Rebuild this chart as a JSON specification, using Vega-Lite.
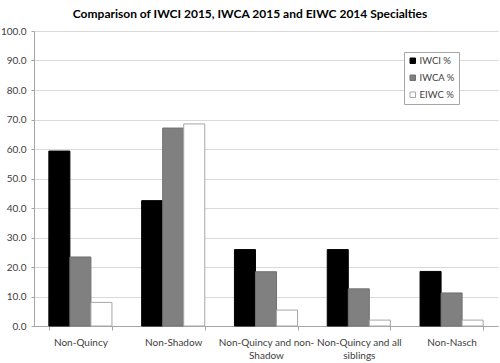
{
  "$schema": "https://vega.github.io/schema/vega-lite/v6.json",
  "autosize": {"type": "none"},
  "width": 464,
  "height": 295,
  "padding": {"left": 34, "top": 31, "right": 2, "bottom": 37},
  "background": "white",
  "title": {
    "text": "Comparison of IWCI 2015, IWCA 2015 and EIWC 2014 Specialties",
    "font": "Lato",
    "fontSize": 12,
    "fontWeight": "bold",
    "color": "#000000",
    "anchor": "middle",
    "dx": -16,
    "offset": 5
  },
  "config": {
    "view": {"stroke": null},
    "font": "Lato"
  },
  "data": {
    "values": [
      {"category": "Non-Quincy", "series": "IWCI %", "value": 59.3},
      {"category": "Non-Quincy", "series": "IWCA %", "value": 23.4},
      {"category": "Non-Quincy", "series": "EIWC %", "value": 8.0},
      {"category": "Non-Shadow", "series": "IWCI %", "value": 42.5},
      {"category": "Non-Shadow", "series": "IWCA %", "value": 67.1},
      {"category": "Non-Shadow", "series": "EIWC %", "value": 68.5},
      {"category": "Non-Quincy and non-Shadow", "series": "IWCI %", "value": 25.9},
      {"category": "Non-Quincy and non-Shadow", "series": "IWCA %", "value": 18.4},
      {"category": "Non-Quincy and non-Shadow", "series": "EIWC %", "value": 5.4},
      {"category": "Non-Quincy and all siblings", "series": "IWCI %", "value": 25.9},
      {"category": "Non-Quincy and all siblings", "series": "IWCA %", "value": 12.6},
      {"category": "Non-Quincy and all siblings", "series": "EIWC %", "value": 2.0},
      {"category": "Non-Nasch", "series": "IWCI %", "value": 18.5},
      {"category": "Non-Nasch", "series": "IWCA %", "value": 11.2},
      {"category": "Non-Nasch", "series": "EIWC %", "value": 2.0}
    ]
  },
  "mark": {"type": "bar", "strokeWidth": 1},
  "encoding": {
    "x": {
      "field": "category",
      "type": "nominal",
      "sort": null,
      "title": null,
      "scale": {"paddingInner": 0.32, "paddingOuter": 0.16},
      "axis": {
        "labelAngle": 0,
        "labelFontSize": 10,
        "labelColor": "#404040",
        "labelPadding": 7,
        "labelLineHeight": 13,
        "labelLimit": 200,
        "labelExpr": "datum.value == 'Non-Quincy and non-Shadow' ? ['Non-Quincy and non-', 'Shadow'] : datum.value == 'Non-Quincy and all siblings' ? ['Non-Quincy and all', 'siblings'] : datum.value",
        "tickBand": "extent",
        "tickSize": 4,
        "tickColor": "#a6a6a6",
        "domainColor": "#a6a6a6",
        "grid": false
      }
    },
    "xOffset": {
      "field": "series",
      "type": "nominal",
      "sort": ["IWCI %", "IWCA %", "EIWC %"],
      "scale": {"paddingInner": 0, "paddingOuter": 0}
    },
    "y": {
      "field": "value",
      "type": "quantitative",
      "title": null,
      "scale": {"domain": [0, 100], "nice": false},
      "axis": {
        "values": [0, 10, 20, 30, 40, 50, 60, 70, 80, 90, 100],
        "format": ".1f",
        "labelFontSize": 10,
        "labelColor": "#404040",
        "labelPadding": 5,
        "tickSize": 3,
        "tickColor": "#a6a6a6",
        "domainColor": "#a6a6a6",
        "gridColor": "#d9d9d9",
        "grid": true
      }
    },
    "fill": {
      "field": "series",
      "type": "nominal",
      "sort": ["IWCI %", "IWCA %", "EIWC %"],
      "scale": {"domain": ["IWCI %", "IWCA %", "EIWC %"], "range": ["#000000", "#808080", "#ffffff"]},
      "legend": {
        "title": null,
        "orient": "none",
        "legendX": 370,
        "legendY": 21,
        "strokeColor": "#a6a6a6",
        "fillColor": "white",
        "padding": 4,
        "symbolType": "square",
        "symbolSize": 30,
        "symbolStrokeWidth": 1,
        "labelFontSize": 9.5,
        "labelColor": "#404040",
        "rowPadding": 6,
        "labelOffset": 2
      }
    },
    "stroke": {
      "field": "series",
      "type": "nominal",
      "sort": ["IWCI %", "IWCA %", "EIWC %"],
      "scale": {"domain": ["IWCI %", "IWCA %", "EIWC %"], "range": ["#000000", "#707070", "#a6a6a6"]},
      "legend": null
    }
  }
}
